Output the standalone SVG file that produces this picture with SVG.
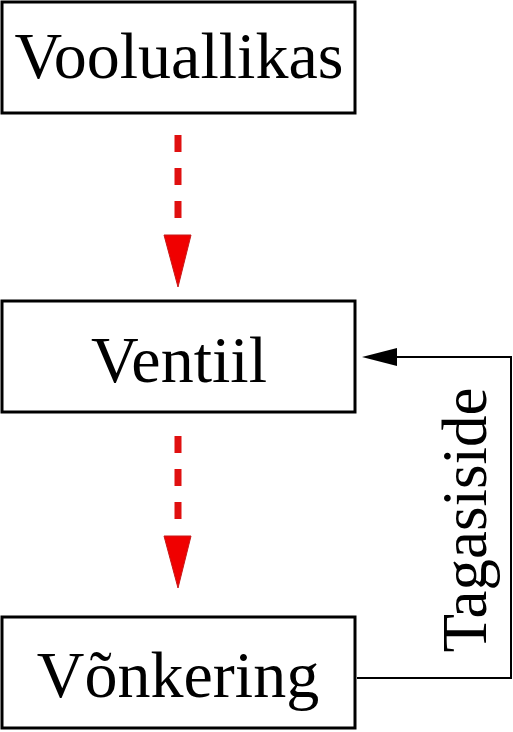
<svg xmlns="http://www.w3.org/2000/svg" width="513" height="732" viewBox="0 0 513 732">
<style>
.box{fill:#fff;stroke:#000;stroke-width:3}
.lbl{font-family:"Liberation Serif","Times New Roman",serif;font-size:66px;fill:#000;text-anchor:middle}
.fbl{font-family:"Liberation Serif","Times New Roman",serif;font-size:63px;fill:#000;text-anchor:middle}
.dash{stroke:#e01010;stroke-width:7;stroke-dasharray:17 16;fill:none}
.head{fill:#f00000;stroke:#c81818;stroke-width:1}
.fb{fill:none;stroke:#000;stroke-width:2}
</style>
<g id="connectors">
<line class="dash" x1="178" y1="135" x2="178" y2="222"/>
<polygon class="head" points="164,235 191,235 178,287"/>
<line class="dash" x1="178" y1="436" x2="178" y2="523"/>
<polygon class="head" points="164,536 191,536 178,588"/>
<polyline class="fb" points="357,678 511,678 511,357 395,357"/>
<polygon points="362,357 397,348 397,366" fill="#000"/>
<text class="fbl" transform="translate(486,520) rotate(-90)">Tagasiside</text>
</g>
<g id="node-vooluallikas">
<rect class="box" x="2" y="2" width="353" height="111"/>
<text class="lbl" x="179" y="78">Vooluallikas</text>
</g>
<g id="node-ventiil">
<rect class="box" x="2" y="301" width="353" height="111"/>
<text class="lbl" x="179" y="382">Ventiil</text>
</g>
<g id="node-vonkering">
<rect class="box" x="2" y="617" width="353" height="111"/>
<text class="lbl" x="178" y="697">Võnkering</text>
</g>
</svg>
